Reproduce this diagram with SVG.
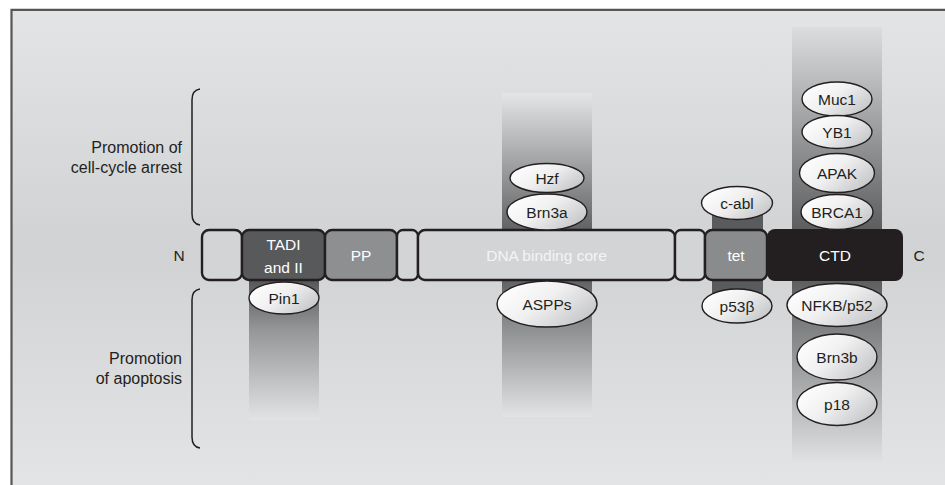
<svg xmlns="http://www.w3.org/2000/svg" width="945" height="485" viewBox="0 0 945 485">
<defs>
<linearGradient id="bg" x1="0" y1="0" x2="0" y2="1">
<stop offset="0" stop-color="#e3e4e6"/>
<stop offset="0.5" stop-color="#d1d2d4"/>
<stop offset="1" stop-color="#e3e4e6"/>
</linearGradient>
<linearGradient id="ell" x1="0" y1="0.2" x2="1" y2="0.8">
<stop offset="0" stop-color="#ffffff"/>
<stop offset="0.45" stop-color="#f0f0f1"/>
<stop offset="1" stop-color="#c2c3c5"/>
</linearGradient>
<linearGradient id="colPin" gradientUnits="userSpaceOnUse" x1="0" y1="281" x2="0" y2="420">
<stop offset="0" stop-color="#575859"/>
<stop offset="0.35" stop-color="#959698"/>
<stop offset="1" stop-color="#e2e3e5"/>
</linearGradient>
<linearGradient id="colDNA" gradientUnits="userSpaceOnUse" x1="0" y1="93" x2="0" y2="417">
<stop offset="0" stop-color="#e4e5e7"/>
<stop offset="0.42" stop-color="#626365"/>
<stop offset="0.58" stop-color="#626365"/>
<stop offset="1" stop-color="#e2e3e5"/>
</linearGradient>
<linearGradient id="colCTD" gradientUnits="userSpaceOnUse" x1="0" y1="27" x2="0" y2="462">
<stop offset="0" stop-color="#dcdddf"/>
<stop offset="0.46" stop-color="#5e5f61"/>
<stop offset="0.585" stop-color="#5e5f61"/>
<stop offset="1" stop-color="#e0e1e3"/>
</linearGradient>
<style>
.box{stroke:#231f20;stroke-width:2.4}
.el{fill:url(#ell);stroke:#231f20;stroke-width:1.4}
.t{font-family:"Liberation Sans",Arial,sans-serif;font-size:15.5px;fill:#231f20;text-anchor:middle}
.w{font-family:"Liberation Sans",Arial,sans-serif;font-size:15.5px;fill:#ffffff;text-anchor:middle}
.side{font-family:"Liberation Sans",Arial,sans-serif;font-size:16px;fill:#231f20;text-anchor:end}
.brace{fill:none;stroke:#231f20;stroke-width:1.5}
</style>
</defs>
<rect x="0" y="0" width="945" height="485" fill="#ffffff"/>
<rect x="12" y="10" width="933" height="475" fill="url(#bg)"/>
<path d="M11.5 485 V9.8 H945" fill="none" stroke="#555658" stroke-width="2.2"/>

<g id="columns">
<rect x="249" y="281" width="70" height="139" fill="url(#colPin)"/>
<rect x="502" y="93" width="90" height="324" fill="url(#colDNA)"/>
<rect x="712" y="205" width="51" height="100" fill="#5a5b5d"/>
<rect x="792" y="27" width="90" height="435" fill="url(#colCTD)"/>
</g>

<g id="brackets">
<path class="brace" d="M200 89 Q192 90 192 100 V214 Q192 224 200 225"/>
<path class="brace" d="M200 289 Q192 290 192 300 V437 Q192 447 200 448"/>
<text class="side" x="182" y="153">Promotion of</text>
<text class="side" x="182" y="173">cell-cycle arrest</text>
<text class="side" x="182" y="364">Promotion</text>
<text class="side" x="182" y="384">of apoptosis</text>
</g>

<g id="connectors"/>

<g id="N-label"><text class="t" x="179" y="261">N</text></g>
<g id="C-label"><text class="t" x="919" y="261">C</text></g>

<g id="box-N"><rect class="box" x="202" y="230" width="40" height="50" rx="7" fill="#d3d4d6"/></g>
<g id="box-TAD"><rect class="box" x="242" y="230" width="83" height="50" rx="7" fill="#58595b"/>
<text class="w" x="283.5" y="250">TADI</text><text class="w" x="283.5" y="273">and II</text></g>
<g id="box-PP"><rect class="box" x="325" y="230" width="72" height="50" rx="7" fill="#8e8f91"/>
<text class="w" x="361" y="261">PP</text></g>
<g id="box-link1"><rect class="box" x="397" y="230" width="21" height="50" rx="6" fill="#d3d4d6"/></g>
<g id="box-DNA"><rect class="box" x="418" y="230" width="257" height="50" rx="7" fill="#d3d4d6"/>
<text class="w" x="546.5" y="261" style="fill:#f4f4f5">DNA binding core</text></g>
<g id="box-link2"><rect class="box" x="675" y="230" width="30" height="50" rx="6" fill="#d3d4d6"/></g>
<g id="box-tet"><rect class="box" x="705" y="230" width="62" height="50" rx="7" fill="#8a8b8d"/>
<text class="w" x="736" y="261">tet</text></g>
<g id="box-CTD"><rect x="767" y="229" width="136" height="52" rx="8" fill="#231f20"/>
<text class="w" x="835" y="261">CTD</text></g>

<g id="Pin1"><ellipse class="el" cx="284" cy="298" rx="35" ry="16"/><text class="t" x="284" y="303.5">Pin1</text></g>
<g id="Hzf"><ellipse class="el" cx="547" cy="178" rx="37" ry="14.5"/><text class="t" x="547" y="183.5">Hzf</text></g>
<g id="Brn3a"><ellipse class="el" cx="547" cy="212" rx="40" ry="18"/><text class="t" x="547" y="217.5">Brn3a</text></g>
<g id="ASPPs"><ellipse class="el" cx="547" cy="304" rx="50" ry="23"/><text class="t" x="547" y="309.5">ASPPs</text></g>
<g id="c-abl"><ellipse class="el" cx="737" cy="203" rx="35.5" ry="16.5"/><text class="t" x="737" y="208.5">c-abl</text></g>
<g id="p53beta"><ellipse class="el" cx="737" cy="306" rx="35" ry="17"/><text class="t" x="737" y="311.5">p53β</text></g>
<g id="Muc1"><ellipse class="el" cx="837" cy="99" rx="35" ry="17"/><text class="t" x="837" y="104.5">Muc1</text></g>
<g id="YB1"><ellipse class="el" cx="837" cy="132" rx="35" ry="16.5"/><text class="t" x="837" y="137.5">YB1</text></g>
<g id="APAK"><ellipse class="el" cx="837" cy="173" rx="37.5" ry="19.5"/><text class="t" x="837" y="178.5">APAK</text></g>
<g id="BRCA1"><ellipse class="el" cx="837" cy="212" rx="36" ry="17.5"/><text class="t" x="837" y="217.5">BRCA1</text></g>
<g id="NFKB-p52"><ellipse class="el" cx="837" cy="305" rx="50" ry="21.5"/><text class="t" x="837" y="310.5">NFKB/p52</text></g>
<g id="Brn3b"><ellipse class="el" cx="837" cy="357" rx="40" ry="23"/><text class="t" x="837" y="362.5">Brn3b</text></g>
<g id="p18"><ellipse class="el" cx="837" cy="404" rx="40" ry="21.5"/><text class="t" x="837" y="409.5">p18</text></g>
</svg>
